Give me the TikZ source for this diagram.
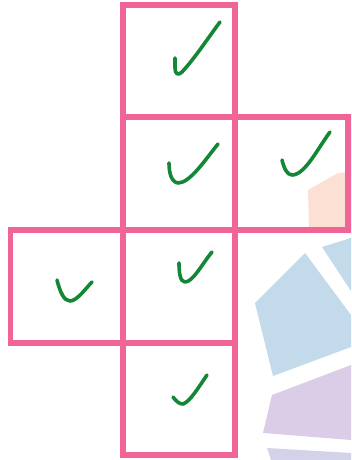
\documentclass[tikz,border=0pt]{standalone}
\definecolor{sqpink}{RGB}{240,100,152}
\definecolor{chkgreen}{RGB}{20,135,55}
\definecolor{wmsalmon}{RGB}{252,224,212}
\definecolor{wmblue}{RGB}{194,218,234}
\definecolor{wmpurple}{RGB}{219,205,232}
\definecolor{wmlav}{RGB}{210,210,232}
\tikzset{
  sq/.style={draw=sqpink, line width=5.5pt},
  chk/.style={draw=chkgreen, line width=3.6pt, line cap=round, line join=round},
  wm/.style={draw=none}
}
\begin{document}
\begin{tikzpicture}[x=1pt,y=-1pt]
\useasboundingbox (0,0) rectangle (351,460);
\fill[white] (0,0) rectangle (351,460);
% faint watermark shapes
\fill[wmsalmon] (308,190) -- (338,173) -- (351,172) -- (351,228) -- (309,228) -- cycle;
\fill[wmblue] (305,253) -- (255,303) -- (273,376) -- (351,347) -- (351,315) -- cycle;
\fill[wmblue] (322,247) -- (351,238) -- (351,291) -- cycle;
\fill[wmpurple] (272,395) -- (351,365) -- (351,440) -- (263,433) -- cycle;
\fill[wmlav] (267,448) -- (351,453) -- (351,460) -- (271,460) -- cycle;
% squares
\draw[sq] (123,5) rectangle (235,117);
\draw[sq] (123,117) rectangle (235,230);
\draw[sq] (235,117) rectangle (348,230);
\draw[sq] (10.5,230) rectangle (123,343);
\draw[sq] (123,230) rectangle (235,343);
\draw[sq] (123,343) rectangle (235,455);
% check marks
\draw[chk] (175,58) -- (175,68) .. controls (175,74) and (178,76) .. (182,72) .. controls (195,58) and (208,38) .. (220,22);
\draw[chk] (169,163) .. controls (169,172) and (171,182) .. (178,183) .. controls (190,183) and (205,160) .. (218,144);
\draw[chk] (282,160) .. controls (284,168) and (287,175) .. (292,175) .. controls (305,175) and (318,148) .. (330,132);
\draw[chk] (57,280) .. controls (60,292) and (64,301) .. (70,301) .. controls (77,301) and (86,288) .. (92,282);
\draw[chk] (179,263) .. controls (179,272) and (180,282) .. (185,282) .. controls (193,282) and (202,264) .. (212,252);
\draw[chk] (173,397) .. controls (176,401) and (179,404) .. (183,404) .. controls (190,402) and (200,385) .. (207,375);
\end{tikzpicture}
\end{document}
